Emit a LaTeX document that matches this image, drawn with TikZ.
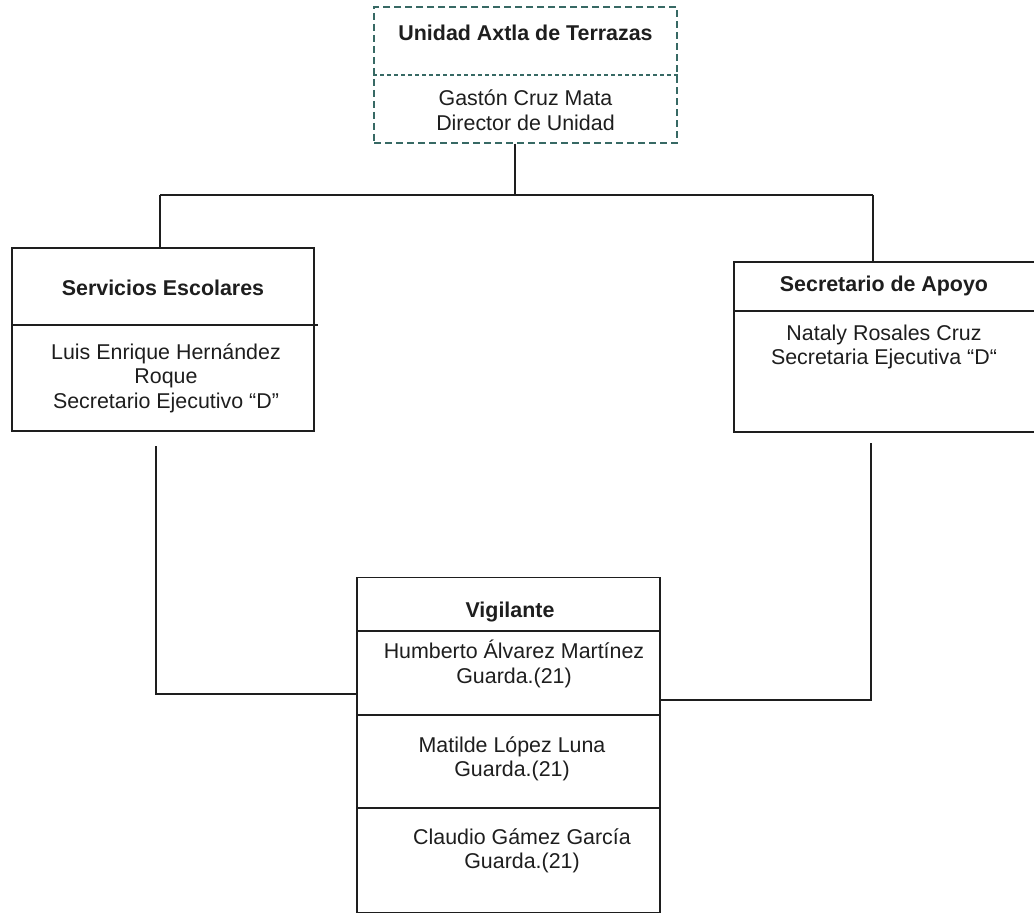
\documentclass[tikz,border=0pt]{standalone}
\usepackage{fontspec}
\setmainfont{Liberation Sans}
\definecolor{dashteal}{RGB}{55,105,100}
\definecolor{inkc}{RGB}{30,30,30}
\begin{document}
\begin{tikzpicture}[x=1pt,y=-1pt,
  txt/.style={inner sep=0pt,align=center,text=inkc,font=\fontsize{21.4}{24.5}\selectfont},
  ttl/.style={txt,font=\fontsize{21.4}{24.5}\selectfont\bfseries},
  box/.style={draw=inkc,line width=1.6pt,inner sep=0pt,fill=none},
  rule/.style={draw=inkc,line width=1.6pt},
  conn/.style={draw=inkc,line width=1.6pt}]
\useasboundingbox (0,0) rectangle (1034,917);
\fill[white] (0,0) rectangle (1034,917);

% top box
\node[draw=dashteal,line width=1.3pt,dash pattern=on 7pt off 4pt,minimum width=303pt,minimum height=136pt,inner sep=0pt] (top) at (525.5,75) {};
\draw[dashteal,line width=1.1pt,dash pattern=on 4pt off 3pt] (top.west |- 0,75) -- (top.east |- 0,75);
\node[ttl] (toptitle) at (525.5,33) {Unidad Axtla de Terrazas};
\node[txt] (toptext) at (525.5,110) {Gastón Cruz Mata\\Director de Unidad};

% left box
\node[box,minimum width=302pt,minimum height=183pt] (left) at (163,339.5) {};
\draw[rule] (12,325) -- (318,325);
\node[ttl] (lefttitle) at (163,288) {Servicios Escolares};
\node[txt] (lefttext) at (166,378) {Luis Enrique Hernández\\Roque\\Secretario Ejecutivo “D”};

% right box
\node[box,minimum width=306pt,minimum height=170pt] (right) at (887,347) {};
\draw[rule] (734,311) -- (1040,311);
\node[ttl] (righttitle) at (884,286) {Secretario de Apoyo};
\node[txt] (righttext) at (884,347) {Nataly Rosales Cruz\\Secretaria Ejecutiva “D“};

% bottom box
\node[box,minimum width=303pt,minimum height=335pt] (vig) at (508.5,745) {};
\draw[rule] (357,631) -- (660,631);
\draw[rule] (357,715) -- (660,715);
\draw[rule] (357,808) -- (660,808);
\node[ttl] (vigtitle) at (510,612) {Vigilante};
\node[txt] (v1) at (514,664) {Humberto Álvarez Martínez\\Guarda.(21)};
\node[txt] (v2) at (512,759) {Matilde López Luna\\Guarda.(21)};
\node[txt] (v3) at (522,851) {Claudio Gámez García\\Guarda.(21)};

% connectors
\coordinate (hub) at (515,195);
\coordinate (hl) at (160,195);
\coordinate (hr) at (873,195);
\draw[conn] (top.south -| hub) -- (hub);
\draw[conn] (hl) -- (hr);
\draw[conn] (hl) -- (hl |- left.north);
\draw[conn] (hr) -- (hr |- right.north);

\coordinate (ls) at (156,446);
\coordinate (lc) at (156,694);
\draw[conn] (ls) -- (lc) -- (lc -| vig.west);
\coordinate (rs) at (871,443);
\coordinate (rc) at (871,700);
\draw[conn] (rs) -- (rc) -- (rc -| vig.east);
\end{tikzpicture}
\end{document}
